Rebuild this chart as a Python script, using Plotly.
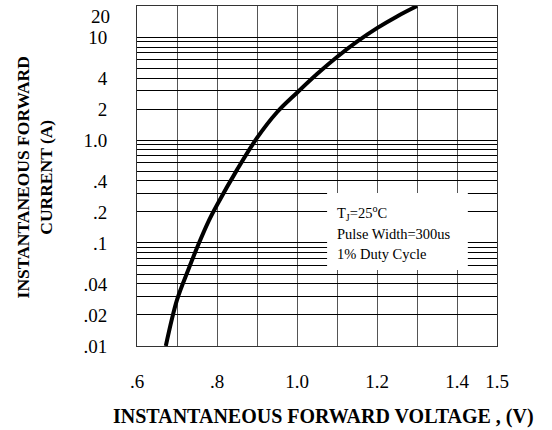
import plotly.graph_objects as go
import math

# Data
voltage = [0.672, 0.70, 0.728, 0.755, 0.78, 0.80, 0.85, 0.90, 0.95, 1.00, 1.05, 1.10, 1.15, 1.20, 1.25, 1.30]
current = [0.01, 0.028, 0.0547, 0.100, 0.166, 0.234, 0.513, 1.047, 1.86, 2.88, 4.37, 6.40, 9.02, 12.2, 15.85, 20.0]

x_tickvals = [0.6, 0.7, 0.8, 0.9, 1.0, 1.1, 1.2, 1.3, 1.4, 1.5]
x_ticktext = [".6", "", ".8", "", "1.0", "", "1.2", "", "1.4", "1.5"]

y_labels = {0.01: ".01", 0.02: ".02", 0.04: ".04", 0.1: ".1", 0.2: ".2", 0.4: ".4",
            1.0: "1.0", 2.0: "2", 4.0: "4", 10.0: "10"}
y_top_value = 20.0
y_top_label = "20"
y_gridvals = []
for p in (-2, -1, 0):
    for k in range(1, 10):
        y_gridvals.append(round(k * 10 ** p, 4))
y_gridvals += [10.0, y_top_value]
y_ticktext = [y_labels.get(v, "") for v in y_gridvals]

note_lines = ["T<sub>J</sub>=25<sup>o</sup>C", "Pulse Width=300us", "1% Duty Cycle"]

SERIF = "Liberation Serif, Times New Roman, serif"

fig = go.Figure()
fig.add_trace(go.Scatter(x=voltage, y=current, mode="lines",
                         line=dict(color="black", width=4, shape="spline", smoothing=1.0),
                         showlegend=False, hoverinfo="skip"))

fig.update_layout(
    width=552, height=430,
    margin=dict(l=137, r=55, t=6, b=84),
    paper_bgcolor="white", plot_bgcolor="white",
    font=dict(family=SERIF, color="black"),
    xaxis=dict(range=[0.6, 1.5], tickvals=x_tickvals, ticktext=x_ticktext,
               showgrid=True, gridcolor="#555", gridwidth=1,
               showline=True, linecolor="#333", linewidth=1, mirror=True,
               ticks="", ticklabelstandoff=18, tickfont=dict(size=19, family=SERIF),
               ticklabeloverflow="allow", automargin=False, zeroline=False),
    yaxis=dict(type="log", range=[-2.0002, math.log10(y_top_value) + 0.0002],
               tickvals=y_gridvals, ticktext=y_ticktext,
               showgrid=True, gridcolor="black", gridwidth=1,
               showline=True, linecolor="#333", linewidth=1, mirror=True,
               ticks="", ticklabelstandoff=25, tickfont=dict(size=19, family=SERIF),
               ticklabeloverflow="allow", automargin=False, zeroline=False),
)

# top tick label, kept inside the page (just below the top edge as in the reference)
fig.add_annotation(text=y_top_label, xref="paper", yref="y", x=0, y=math.log10(y_top_value),
                   xanchor="right", yanchor="top", xshift=-25, yshift=2, showarrow=False,
                   font=dict(size=19, family=SERIF, color="black"))

# white box behind the note
fig.add_shape(type="rect", xref="paper", yref="paper",
              x0=0.528, x1=0.919, y0=0.2235, y1=0.45,
              fillcolor="white", line=dict(width=0), layer="above")

for txt, yp in zip(note_lines, [0.391, 0.329, 0.2706]):
    fig.add_annotation(text=txt, xref="paper", yref="paper", x=0.55, y=yp,
                       xanchor="left", yanchor="middle", showarrow=False,
                       font=dict(size=14.5, family=SERIF, color="black"))

fig.add_annotation(text="<b>INSTANTANEOUS FORWARD VOLTAGE , (V)</b>",
                   xref="paper", yref="paper", x=0.519, y=-0.206,
                   xanchor="center", yanchor="middle", showarrow=False,
                   font=dict(size=20, family=SERIF, color="black"))

fig.add_annotation(text="<b>INSTANTANEOUS FORWARD<br>CURRENT (A)</b>",
                   xref="paper", yref="paper", x=-0.285, y=0.497,
                   xanchor="center", yanchor="middle", showarrow=False, textangle=-90,
                   font=dict(size=17.5, family=SERIF, color="black"))

fig.write_html("out.html", config={"displayModeBar": False},
               post_script="document.body.style.margin='0px';")
